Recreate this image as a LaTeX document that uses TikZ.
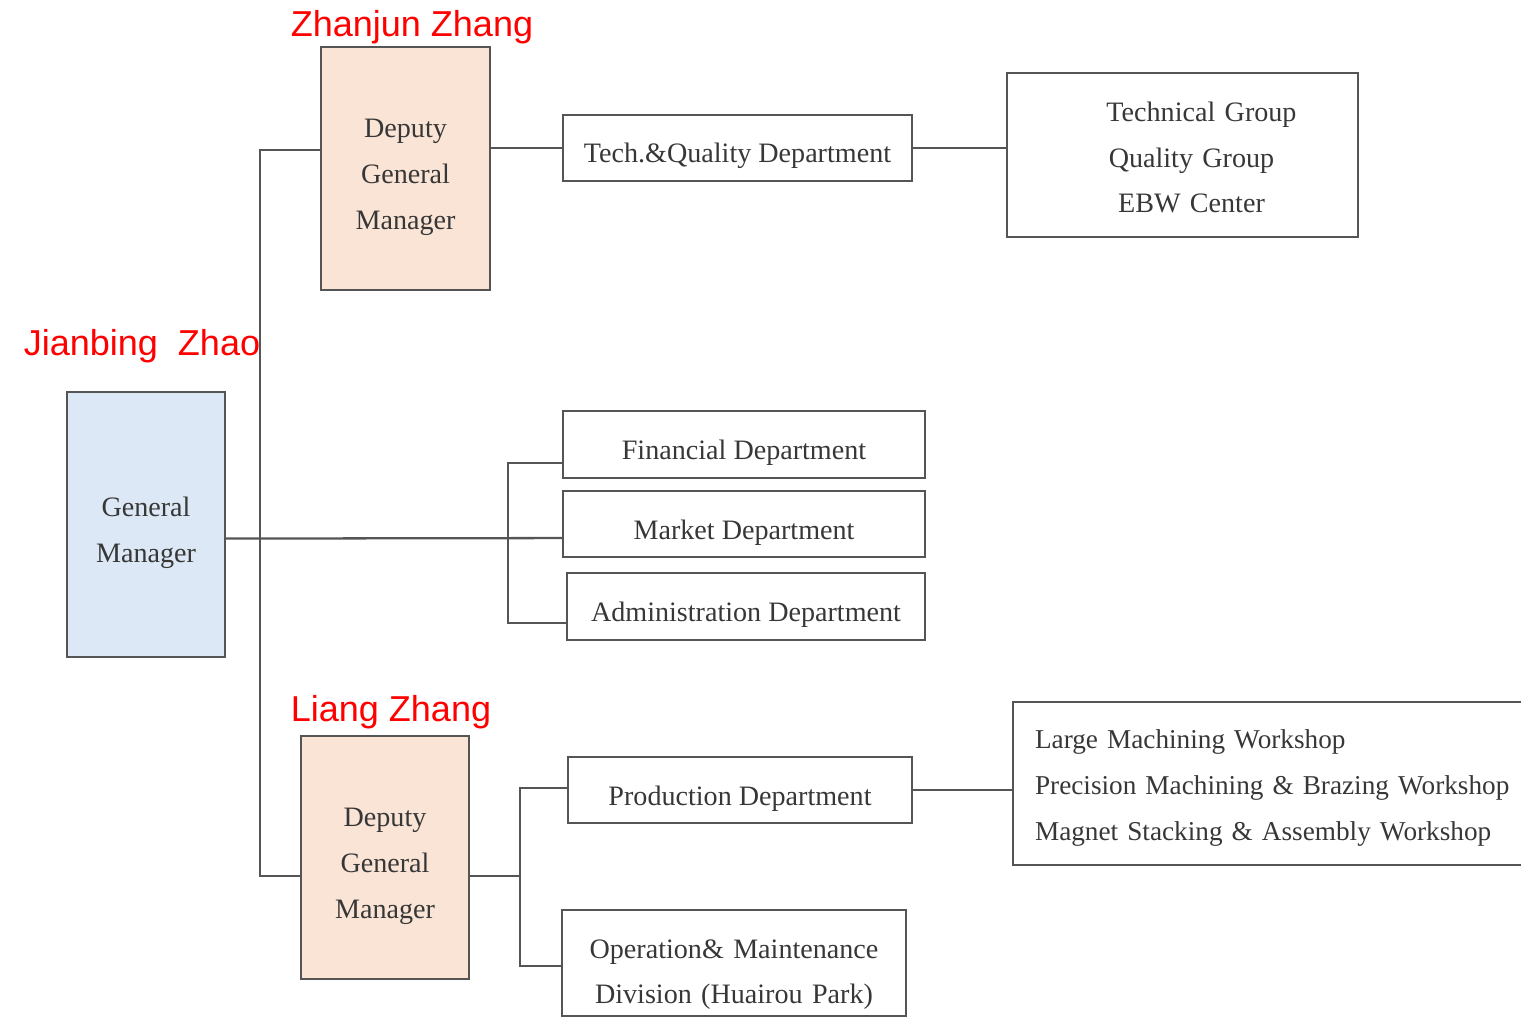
\documentclass[tikz,border=0pt]{standalone}
\usepackage{fontspec}
\setmainfont{Liberation Serif}
\newfontfamily\namefont{Liberation Sans}
\usepackage{tikz}
\definecolor{linegray}{RGB}{85,85,85}
\definecolor{textgray}{RGB}{55,55,55}
\definecolor{peach}{RGB}{250,228,214}
\definecolor{paleblue}{RGB}{220,232,245}
\tikzstyle{unit}=[
    draw=linegray,
    line width=1.3pt,
    text=textgray,
    align=center,
    inner sep=0pt,
    font=\fontsize{16}{26}\selectfont,
    lift=20.5pt
]
\tikzstyle{lift}=[execute at begin node={\rule{0pt}{#1}}]
\tikzstyle{drop}=[execute at end node={\rule[-#1]{0pt}{0pt}}]
\tikzstyle{conn}=[draw=linegray, line width=1.3pt]
\tikzstyle{person}=[text=red, font=\namefont\fontsize{20.5}{24}\selectfont]

\begin{document}
\begin{tikzpicture}[x=0.02cm, y=-0.02cm]
        \useasboundingbox (0,0) rectangle (1521,1018);

        % general manager
        \node[unit, text width=3.16cm, minimum width=3.16cm, minimum height=5.3cm, fill=paleblue] (gm) at (146,524.5) {General\\Manager};
        \node[person] (gmname) at (142,346) {Jianbing\ \ Zhao};

        % deputies
        \node[unit, text width=3.38cm, minimum width=3.38cm, minimum height=4.86cm, fill=peach] (dgmtop) at (405.5,168.5) {Deputy\\General\\Manager};
        \node[person] (topname) at (412,27) {Zhanjun Zhang};
        \node[unit, text width=3.36cm, minimum width=3.36cm, minimum height=4.86cm, fill=peach] (dgmbot) at (385,857.5) {Deputy\\General\\Manager};
        \node[person] (botname) at (391,712) {Liang Zhang};

        % departments
        \node[unit, minimum width=6.98cm, minimum height=1.32cm] (techq) at (737.5,148) {Tech.\&Quality Department};
        \node[unit, drop=6.6pt, text width=7.02cm, minimum width=7.02cm, minimum height=3.28cm] (groups) at (1182.5,155) {\hspace*{0.76cm}Technical Group\\\hspace*{0.36cm}Quality Group\\\hspace*{0.36cm}EBW Center};
        \node[unit, minimum width=7.24cm, minimum height=1.34cm] (fin) at (744,444.5) {Financial Department};
        \node[unit, minimum width=7.24cm, minimum height=1.32cm] (mkt) at (744,524) {Market Department};
        \node[unit, minimum width=7.16cm, minimum height=1.34cm] (adm) at (746,606.5) {Administration Department};
        \node[unit, minimum width=6.88cm, minimum height=1.32cm] (prod) at (740,790) {Production Department};
        \node[unit, lift=24pt, text width=6.88cm, minimum width=6.88cm, minimum height=2.12cm] (ops) at (734,963) {Operation\& Maintenance\\Division (Huairou Park)};
        \node[unit, drop=7.8pt, font=\fontsize{15.5}{26}\selectfont, minimum width=10.94cm, minimum height=3.26cm, text width=10.06cm, align=left] (shops) at (1286.5,783.5) {Large Machining Workshop\\Precision Machining \& Brazing Workshop\\Magnet Stacking \& Assembly Workshop};

        % junctions
        \coordinate (bustop) at (260,150);
        \coordinate (busbot) at (260,876);
        \coordinate (finbus) at (508,463);
        \coordinate (admbus) at (508,623);
        \coordinate (prodbus) at (520,788);
        \coordinate (opsbus) at (520,966);
        \coordinate (dgmbus) at (520,876);

        % lines
        \draw[conn] (dgmtop.west |- bustop) -- (bustop) -- (busbot) -- (dgmbot.west |- busbot);
        \draw[conn] ([yshift=-8pt]gm.east) -- ([yshift=-8pt]mkt.west);
        \draw[conn] (fin.west |- finbus) -- (finbus) -- (admbus) -- (adm.west |- admbus);
        \draw[conn] (dgmtop.east |- techq.west) -- (techq.west);
        \draw[conn] (techq.east) -- (groups.west |- techq.east);
        \draw[conn] (dgmbot.east |- dgmbus) -- (dgmbus);
        \draw[conn] (prod.west |- prodbus) -- (prodbus) -- (opsbus) -- (ops.west |- opsbus);
        \draw[conn] (prod.east) -- (shops.west |- prod.east);

    \end{tikzpicture}
\end{document}
